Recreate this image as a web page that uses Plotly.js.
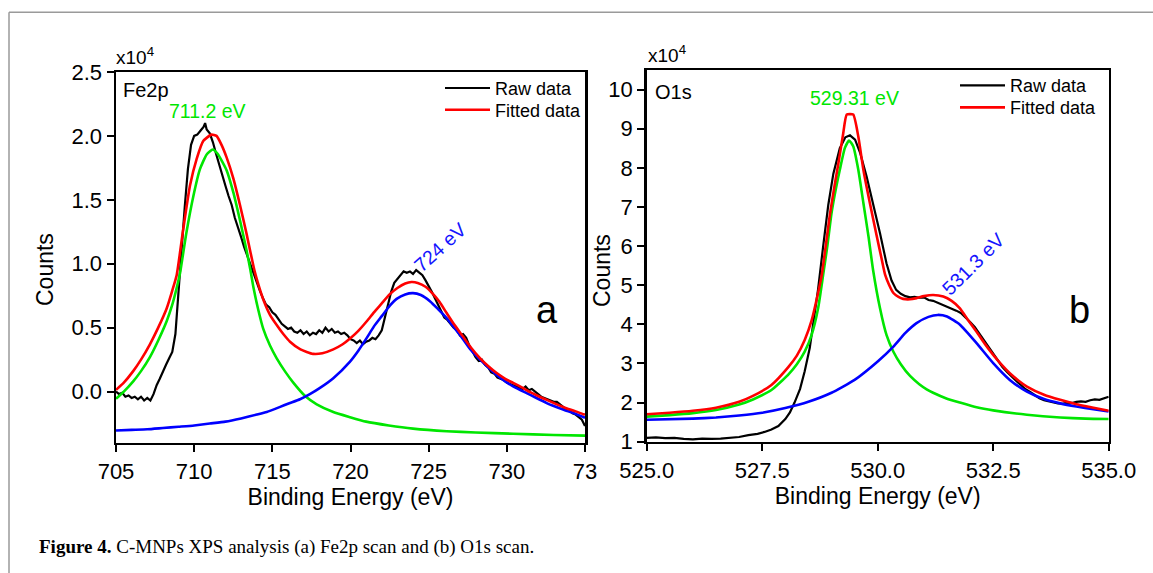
<!DOCTYPE html>
<html>
<head>
<meta charset="utf-8">
<script src="https://cdn.plot.ly/plotly-3.0.1.min.js"></script>
<style>html,body{margin:0;padding:0;background:#fff;}#chart{width:1153px;height:573px;}</style>
</head>
<body>
<div id="chart"></div>
<script>
// ---------------- DATA (counts in units of 1e4) ----------------
// Panel (a) Fe2p : [binding energy (eV), counts]
const FE_RAW = [
[705.0,0.00],[705.2,-0.02],[705.4,-0.01],[705.6,-0.04],[705.8,-0.03],[706.0,-0.05],[706.2,-0.04],[706.4,-0.06],[706.6,-0.04],[706.8,-0.07],
[707.0,-0.05],[707.2,-0.07],[707.4,-0.02],[707.6,0.05],[707.8,0.10],[708.0,0.16],[708.2,0.21],[708.4,0.26],[708.6,0.31],[708.8,0.45],
[709.0,0.80],[709.2,1.10],[709.4,1.45],[709.6,1.74],[709.8,1.93],[710.0,2.00],[710.2,2.01],[710.4,2.04],[710.6,2.07],[710.7,2.10],
[710.8,2.05],[711.0,2.02],[711.2,1.95],[711.4,1.86],[711.6,1.77],[711.8,1.69],[712.0,1.61],[712.2,1.53],[712.4,1.46],[712.6,1.36],
[712.8,1.29],[713.0,1.21],[713.2,1.13],[713.4,1.06],[713.6,1.00],[713.8,0.92],[714.0,0.86],[714.2,0.79],[714.4,0.73],[714.6,0.68],
[714.8,0.66],[715.0,0.62],[715.2,0.60],[715.4,0.56],[715.6,0.53],[715.8,0.51],[716.0,0.49],[716.2,0.50],[716.4,0.47],[716.6,0.46],
[716.8,0.48],[717.0,0.45],[717.2,0.47],[717.4,0.44],[717.6,0.46],[717.8,0.45],[718.0,0.48],[718.2,0.46],[718.4,0.50],[718.6,0.47],
[718.8,0.49],[719.0,0.46],[719.2,0.47],[719.4,0.45],[719.6,0.46],[719.8,0.44],[720.0,0.41],[720.2,0.40],[720.4,0.38],[720.6,0.40],
[720.8,0.37],[721.0,0.39],[721.2,0.40],[721.4,0.42],[721.6,0.41],[721.8,0.44],[722.0,0.48],[722.2,0.58],[722.4,0.68],[722.6,0.78],
[722.8,0.85],[723.0,0.88],[723.2,0.91],[723.4,0.94],[723.6,0.93],[723.8,0.94],[724.0,0.92],[724.2,0.95],[724.4,0.93],[724.6,0.91],
[724.8,0.87],[725.0,0.83],[725.2,0.78],[725.4,0.73],[725.6,0.68],[725.8,0.63],[726.0,0.58],[726.2,0.56],[726.4,0.53],[726.6,0.50],
[726.8,0.48],[727.0,0.44],[727.2,0.45],[727.4,0.42],[727.6,0.36],[727.8,0.31],[728.0,0.27],[728.2,0.24],[728.4,0.25],[728.6,0.21],
[728.8,0.19],[729.0,0.15],[729.2,0.14],[729.4,0.11],[729.6,0.10],[729.8,0.09],[730.0,0.07],[730.2,0.06],[730.4,0.05],[730.6,0.04],
[730.8,0.03],[731.0,0.02],[731.2,0.04],[731.4,0.01],[731.6,0.02],[731.8,0.00],[732.0,-0.02],[732.2,-0.04],[732.4,-0.05],[732.6,-0.06],
[732.8,-0.07],[733.0,-0.08],[733.2,-0.08],[733.4,-0.10],[733.6,-0.12],[733.8,-0.14],[734.0,-0.15],[734.2,-0.17],[734.4,-0.18],[734.6,-0.20],
[734.8,-0.22],[735.0,-0.27]
];
const FE_FIT = [
[705.0,0.013],[705.5,0.07],[706.1,0.16],[706.6,0.25],[707.17,0.37],[707.7,0.50],[708.24,0.65],[708.6,0.79],[708.88,0.91],[709.3,1.27],
[709.73,1.61],[710.16,1.82],[710.58,1.96],[711.1,2.01],[711.43,2.00],[711.75,1.93],[712.08,1.83],[712.5,1.67],[712.93,1.46],[713.36,1.23],
[713.6,1.09],[713.85,0.95],[714.1,0.84],[714.42,0.72],[714.85,0.60],[715.28,0.52],[715.7,0.45],[716.13,0.39],[716.8,0.33],[717.6,0.295],
[718.2,0.30],[718.9,0.33],[719.5,0.37],[719.97,0.415],[720.5,0.475],[721.04,0.55],[721.5,0.62],[722.0,0.69],[722.5,0.76],[723.0,0.81],
[723.5,0.845],[723.9,0.857],[724.3,0.85],[724.8,0.82],[725.3,0.76],[725.7,0.70],[726.15,0.614],[726.6,0.53],[727.2,0.43],[727.7,0.345],
[728.28,0.262],[728.8,0.20],[729.35,0.145],[729.9,0.10],[730.4,0.068],[731.0,0.03],[731.5,-0.005],[732.0,-0.035],[732.55,-0.065],[733.2,-0.10],
[733.8,-0.13],[734.4,-0.155],[734.9,-0.177],[735.0,-0.18]
];
const FE_PEAK1 = [  // 711.2 eV component
[705.0,-0.057],[705.5,0.0],[706.1,0.08],[706.6,0.16],[707.17,0.27],[707.7,0.40],[708.24,0.55],[708.6,0.68],[708.88,0.81],[709.1,0.93],
[709.5,1.24],[709.95,1.53],[710.37,1.74],[710.8,1.855],[711.19,1.894],[711.5,1.86],[712.08,1.73],[712.5,1.56],[712.93,1.34],[713.36,1.10],
[713.6,0.95],[713.8,0.81],[714.1,0.64],[714.42,0.49],[714.85,0.36],[715.28,0.26],[715.8,0.16],[716.34,0.07],[717.1,-0.035],[717.84,-0.10],
[718.9,-0.16],[719.97,-0.20],[721.0,-0.235],[722.45,-0.265],[724.0,-0.29],[726.15,-0.31],[728.0,-0.32],[730.4,-0.33],[733.0,-0.34],[735.0,-0.345]
];
const FE_PEAK2 = [  // 724 eV component
[705.0,-0.305],[706.0,-0.30],[707.0,-0.295],[708.0,-0.285],[709.0,-0.275],[710.0,-0.265],[711.0,-0.25],[712.0,-0.235],[713.0,-0.21],[714.0,-0.18],
[714.64,-0.16],[715.5,-0.12],[716.0,-0.095],[716.77,-0.06],[717.4,-0.02],[718.0,0.025],[718.9,0.105],[719.97,0.235],[720.5,0.32],[721.04,0.42],
[721.5,0.51],[722.0,0.59],[722.53,0.675],[722.95,0.725],[723.5,0.76],[724.0,0.77],[724.5,0.755],[725.1,0.705],[725.6,0.645],[726.15,0.575],
[726.7,0.49],[727.2,0.41],[727.7,0.325],[728.28,0.25],[728.8,0.19],[729.35,0.13],[729.9,0.08],[730.4,0.04],[731.5,-0.026],[732.55,-0.09],
[733.6,-0.14],[734.3,-0.17],[735.0,-0.205]
];
// Panel (b) O1s
const O_RAW = [
[525.0,1.10],[525.2,1.11],[525.4,1.09],[525.6,1.10],[525.8,1.07],[526.0,1.06],[526.2,1.08],[526.4,1.07],[526.6,1.08],[526.8,1.10],
[527.0,1.12],[527.2,1.17],[527.4,1.20],[527.55,1.25],[527.7,1.31],[527.85,1.40],[528.0,1.58],[528.1,1.75],[528.2,2.0],[528.32,2.35],
[528.42,2.8],[528.53,3.4],[528.62,4.1],[528.71,4.9],[528.82,6.0],[528.93,7.05],[529.04,7.85],[529.18,8.5],[529.3,8.78],[529.4,8.83],
[529.51,8.72],[529.62,8.38],[529.76,7.78],[529.9,7.10],[530.05,6.33],[530.19,5.56],[530.3,5.12],[530.4,4.88],[530.5,4.78],[530.6,4.72],
[530.7,4.69],[530.8,4.70],[530.9,4.68],[531.0,4.69],[531.1,4.62],[531.2,4.60],[531.3,4.55],[531.4,4.52],[531.5,4.45],[531.6,4.40],
[531.7,4.35],[531.8,4.29],[531.9,4.18],[532.0,4.06],[532.1,3.93],[532.2,3.76],[532.3,3.58],[532.4,3.42],[532.5,3.24],[532.6,3.06],
[532.7,2.91],[532.8,2.78],[532.9,2.66],[533.0,2.55],[533.1,2.45],[533.2,2.34],[533.3,2.27],[533.4,2.18],[533.5,2.11],[533.6,2.06],
[533.7,2.03],[533.8,1.99],[533.9,1.98],[534.0,1.97],[534.1,2.00],[534.2,1.99],[534.3,2.02],[534.4,2.03],[534.5,2.02],[534.6,2.06],
[534.7,2.08],[534.8,2.07],[534.9,2.12],[535.0,2.15]
];
const O_FIT = [
[525.0,1.70],[525.5,1.74],[526.0,1.79],[526.5,1.87],[527.0,2.02],[527.3,2.17],[527.7,2.45],[528.06,2.90],[528.25,3.2],[528.42,3.6],
[528.57,4.1],[528.7,4.75],[528.79,5.27],[528.97,6.84],[529.06,7.5],[529.15,8.12],[529.25,8.85],[529.33,9.36],[529.47,9.36],[529.58,8.80],
[529.69,7.95],[529.83,7.10],[529.98,6.25],[530.08,5.7],[530.16,5.27],[530.25,5.0],[530.34,4.80],[530.45,4.70],[530.55,4.65],[530.7,4.64],
[530.84,4.67],[531.0,4.72],[531.2,4.75],[531.42,4.71],[531.6,4.6],[531.78,4.41],[531.95,4.12],[532.14,3.81],[532.32,3.5],[532.5,3.22],
[532.68,2.97],[532.86,2.75],[533.05,2.56],[533.23,2.41],[533.6,2.2],[533.95,2.07],[534.3,1.96],[534.67,1.87],[535.0,1.79]
];
const O_PEAK1 = [  // 529.31 eV component
[525.0,1.64],[525.5,1.68],[526.0,1.73],[526.5,1.81],[527.0,1.95],[527.3,2.08],[527.7,2.32],[528.06,2.71],[528.25,2.98],[528.42,3.30],
[528.57,3.73],[528.71,4.41],[528.82,5.27],[528.91,6.0],[529.0,6.84],[529.1,7.5],[529.18,7.95],[529.29,8.51],[529.38,8.70],[529.47,8.55],
[529.58,7.95],[529.69,7.10],[529.8,6.25],[529.9,5.39],[530.05,4.41],[530.19,3.73],[530.34,3.30],[530.5,2.98],[530.7,2.68],[530.9,2.47],
[531.06,2.34],[531.2,2.25],[531.5,2.10],[531.78,2.00],[532.14,1.88],[532.5,1.80],[533.23,1.69],[533.95,1.62],[534.5,1.59],[535.0,1.58]
];
const O_PEAK2 = [  // 531.3 eV component
[525.0,1.56],[526.0,1.59],[526.5,1.62],[527.0,1.67],[527.5,1.74],[528.0,1.86],[528.5,2.02],[529.0,2.25],[529.5,2.58],[530.0,3.05],
[530.34,3.43],[530.6,3.78],[530.84,4.03],[531.1,4.19],[531.3,4.24],[531.5,4.20],[531.78,3.99],[532.14,3.52],[532.5,3.01],[532.86,2.58],
[533.23,2.28],[533.6,2.09],[533.95,1.98],[534.3,1.90],[534.67,1.83],[535.0,1.77]
];
// Tick labels
const FE_X_TICKS = [705,710,715,720,725,730,735];
const FE_X_LABELS = ['705','710','715','720','725','730','73'];
const FE_Y_TICKS = [0.0,0.5,1.0,1.5,2.0,2.5];
const O_X_TICKS = [525.0,527.5,530.0,532.5,535.0];
const O_Y_TICKS = [1,2,3,4,5,6,7,8,9,10];
const SERIES_NAMES = ['Raw data','Fitted data'];
const PEAK_LABELS_A = ['711.2 eV','724 eV'];
const PEAK_LABELS_B = ['529.31 eV','531.3 eV'];
const CAPTION = '<b>Figure 4.</b> C-MNPs XPS analysis (a) Fe2p scan and (b) O1s scan.';

// ---------------- PLOT ----------------
const W = 1153, H = 573;
const px = x => x / W, py = y => 1 - y / H;
const xs = a => a.map(p => p[0]), ys = a => a.map(p => p[1]);
const GREEN = '#00e600', RED = '#ff0000', BLUE = '#0000ff', BLACK = '#000000';
const FONT = 'Liberation Sans, Arial, Helvetica, sans-serif';

function tr(data, color, xa, ya, opts) {
  return Object.assign({
    type: 'scatter', mode: 'lines', x: xs(data), y: ys(data),
    xaxis: xa, yaxis: ya, hoverinfo: 'skip',
    line: {color: color, width: 2.6, shape: 'spline', smoothing: 0.5},
    showlegend: false
  }, opts || {});
}

const RAW_LINE = {color: BLACK, width: 2.2};
const traces = [
  tr(FE_RAW, BLACK, 'x', 'y', {name: SERIES_NAMES[0], showlegend: true, legend: 'legend', line: RAW_LINE}),
  tr(FE_PEAK1, GREEN, 'x', 'y'),
  tr(FE_PEAK2, BLUE, 'x', 'y'),
  tr(FE_FIT, RED, 'x', 'y', {name: SERIES_NAMES[1], showlegend: true, legend: 'legend2'}),
  tr(O_RAW, BLACK, 'x2', 'y2', {name: SERIES_NAMES[0], showlegend: true, legend: 'legend3', line: RAW_LINE}),
  tr(O_PEAK1, GREEN, 'x2', 'y2'),
  tr(O_PEAK2, BLUE, 'x2', 'y2'),
  tr(O_FIT, RED, 'x2', 'y2', {name: SERIES_NAMES[1], showlegend: true, legend: 'legend4'})
];

const axBase = {
  showline: true, linecolor: BLACK, linewidth: 2.5, mirror: true,
  ticks: 'outside', ticklen: 7, tickwidth: 2, tickcolor: BLACK,
  showgrid: false, zeroline: false, fixedrange: true,
  tickfont: {family: FONT, size: 22, color: BLACK}
};
const xTitle = {text: 'Binding Energy (eV)', font: {family: FONT, size: 23, color: BLACK}, standoff: 2};

const legendBase = {
  xanchor: 'left', yanchor: 'middle', bgcolor: 'rgba(0,0,0,0)', borderwidth: 0,
  font: {family: FONT, size: 18, color: BLACK}, itemwidth: 45
};

const ann = (text, x, y, o) => Object.assign({
  text: text, xref: 'paper', yref: 'paper', x: px(x), y: py(y),
  xanchor: 'center', yanchor: 'middle', showarrow: false,
  font: {family: FONT, size: 20, color: BLACK}
}, o || {});

const layout = {
  width: W, height: H,
  margin: {l: 0, r: 0, t: 0, b: 0},
  paper_bgcolor: '#ffffff', plot_bgcolor: '#ffffff',
  showlegend: true,
  xaxis: Object.assign({}, axBase, {domain: [px(116), px(585)], range: [705, 735], anchor: 'y',
    tickmode: 'array', tickvals: FE_X_TICKS, ticktext: FE_X_LABELS, title: xTitle}),
  yaxis: Object.assign({}, axBase, {domain: [py(442.7), py(72)], range: [-0.4, 2.5], anchor: 'x',
    tickmode: 'array', tickvals: FE_Y_TICKS, tickformat: '.1f'}),
  xaxis2: Object.assign({}, axBase, {domain: [px(646.7), px(1108.7)], range: [525, 535], anchor: 'y2',
    tickmode: 'array', tickvals: O_X_TICKS, tickformat: '.1f', title: xTitle}),
  yaxis2: Object.assign({}, axBase, {domain: [py(441.7), py(70)], range: [1, 10.5], anchor: 'x2',
    tickmode: 'array', tickvals: O_Y_TICKS}),
  legend: Object.assign({}, legendBase, {x: px(440), y: py(88.3)}),
  legend2: Object.assign({}, legendBase, {x: px(440), y: py(110)}),
  legend3: Object.assign({}, legendBase, {x: px(955), y: py(85.7)}),
  legend4: Object.assign({}, legendBase, {x: px(955), y: py(107.7)}),
  shapes: [
    {type: 'line', xref: 'paper', yref: 'paper', x0: px(9), x1: px(1160), y0: py(12.3), y1: py(12.3), line: {color: '#9a9a9a', width: 1.5}},
    {type: 'line', xref: 'paper', yref: 'paper', x0: px(9), x1: px(9), y0: py(12.3), y1: py(600), line: {color: '#9a9a9a', width: 1.5}}
  ],
  annotations: [
    ann('x10<sup>4</sup>', 114, 56, {xanchor: 'left', font: {family: FONT, size: 19, color: BLACK}}),
    ann('x10<sup>4</sup>', 645.5, 54, {xanchor: 'left', font: {family: FONT, size: 19, color: BLACK}}),
    ann('Fe2p', 121, 90, {xanchor: 'left'}),
    ann('O1s', 653, 92.3, {xanchor: 'left'}),
    ann(PEAK_LABELS_A[0], 207.5, 110.7, {font: {family: FONT, size: 19.5, color: GREEN}}),
    ann(PEAK_LABELS_A[1], 440, 247, {textangle: -42, font: {family: FONT, size: 19.5, color: '#1414ff'}}),
    ann(PEAK_LABELS_B[0], 854, 98.3, {font: {family: FONT, size: 19.5, color: GREEN}}),
    ann(PEAK_LABELS_B[1], 973, 264, {textangle: -45, font: {family: FONT, size: 19.5, color: '#1414ff'}}),
    ann('a', 547, 310, {font: {family: FONT, size: 38, color: BLACK}}),
    ann('b', 1079, 310, {font: {family: FONT, size: 38, color: BLACK}}),
    ann('Counts', 45, 270, {textangle: -90, font: {family: FONT, size: 23, color: BLACK}}),
    ann('Counts', 602, 271, {textangle: -90, font: {family: FONT, size: 23, color: BLACK}}),
    ann(CAPTION, 36.7, 547, {xanchor: 'left', font: {family: 'Liberation Serif, Times New Roman, serif', size: 19, color: BLACK}})
  ]
};

Plotly.newPlot('chart', traces, layout, {displayModeBar: false, staticPlot: true, responsive: false});
</script>
</body>
</html>
